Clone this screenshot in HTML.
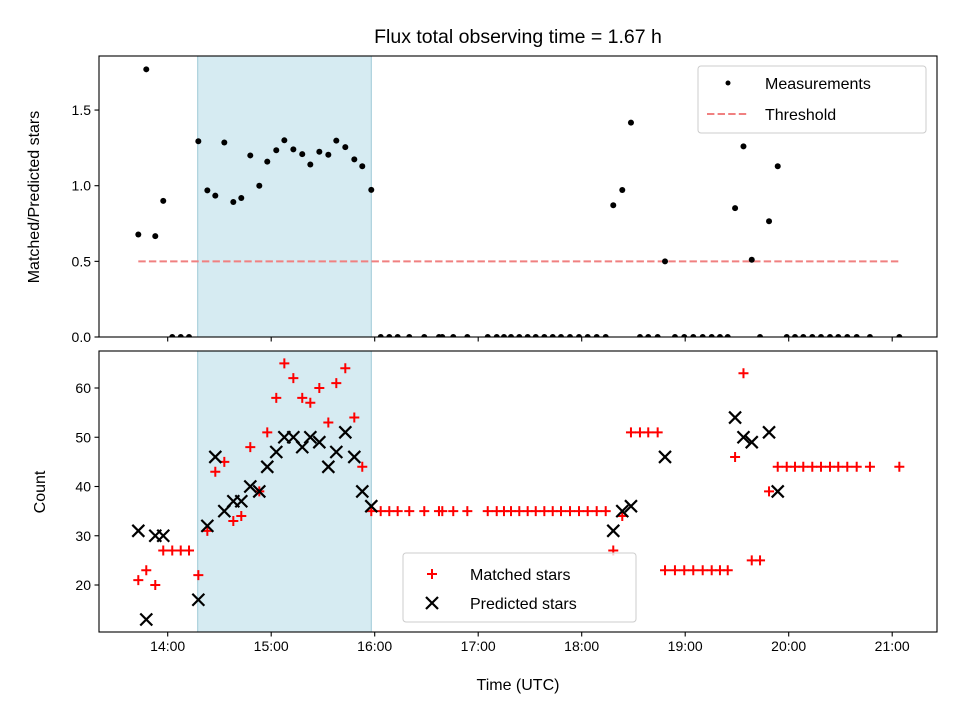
<!DOCTYPE html>
<html><head><meta charset="utf-8"><style>
body{margin:0;background:#fff;}
svg{display:block;font-family:"Liberation Sans","DejaVu Sans",sans-serif;}
</style></head><body>
<svg id="chart" width="960" height="720" viewBox="0 0 960 720"></svg>
<script>
const times = [13.716,13.793,13.880,13.957,14.044,14.126,14.206,14.296,14.383,14.460,14.547,14.634,14.711,14.798,14.885,14.962,15.049,15.127,15.214,15.300,15.378,15.465,15.552,15.629,15.716,15.803,15.880,15.967,
16.058,16.141,16.222,16.334,16.479,16.621,16.653,16.759,16.895,17.092,17.179,17.249,17.317,17.397,17.478,17.556,17.639,17.720,17.800,17.887,17.974,18.058,18.145,18.232,
18.305,18.392,18.476,18.563,18.643,18.734,18.805,18.901,18.991,19.078,19.169,19.256,19.336,19.411,
19.482,19.563,19.643,19.723,19.810,19.894,19.981,20.061,20.141,20.228,20.312,20.399,20.479,20.566,20.657,20.785,21.069];
const matched = [21,23,20,27,27,27,27,22,31,43,45,33,34,48,39,51,58,65,62,58,57,60,53,61,64,54,44,35,
35,35,35,35,35,35,35,35,35,35,35,35,35,35,35,35,35,35,35,35,35,35,35,35,
27,34,51,51,51,51,23,23,23,23,23,23,23,23,
46,63,25,25,39,44,44,44,44,44,44,44,44,44,44,44,44];
const predicted = [31,13,30,30,null,null,null,17,32,46,35,37,37,40,39,44,47,50,50,48,50,49,44,47,51,46,39,36,
null,null,null,null,null,null,null,null,null,null,null,null,null,null,null,null,null,null,null,null,null,null,null,null,
31,35,36,null,null,null,46,null,null,null,null,null,null,null,
54,50,49,null,51,39,null,null,null,null,null,null,null,null,null,null,null];
const threshold = 0.5;
const shadeStart = 14.29, shadeEnd = 15.967;
const xTicks = [14,15,16,17,18,19,20,21];
const xTickLabels = ["14:00","15:00","16:00","17:00","18:00","19:00","20:00","21:00"];
const topTicks = [0,0.5,1.0,1.5];
const topTickLabels = ["0.0","0.5","1.0","1.5"];
const botTicks = [20,30,40,50,60];

const NS="http://www.w3.org/2000/svg";
const svg=document.getElementById('chart');
const L=99,R=937,T1=56,B1=337,T2=351,B2=632;
const X=t=>167.7+(t-14)*103.5;
const Y1=v=>337-v*151.3;
const Y2=c=>585-(c-20)*4.925;
function el(tag,attrs,parent,text){const e=document.createElementNS(NS,tag);for(const k in attrs)e.setAttribute(k,attrs[k]);if(text!==undefined)e.textContent=text;(parent||svg).appendChild(e);return e;}

// clip paths
const defs=el('defs',{});
const c1=el('clipPath',{id:'c1'},defs);el('rect',{x:L,y:T1,width:R-L,height:B1-T1},c1);
const c2=el('clipPath',{id:'c2'},defs);el('rect',{x:L,y:T2,width:R-L,height:B2-T2},c2);

// title
const title=el('text',{x:518,y:43,'text-anchor':'middle','font-size':'19.5'},svg,'Flux total observing time = 1.67 h');



// panels
[[T1,B1,'top'],[T2,B2,'bottom']].forEach(([t,b,n])=>{
  const g=el('g',{});
  
  
  const s=el('rect',{x:X(shadeStart),y:t,width:X(shadeEnd)-X(shadeStart),height:b-t,fill:'#add8e6','fill-opacity':0.5,stroke:'#9cc8d6','stroke-width':1},g);
  
  
});

// top series
const gTop=el('g',{'clip-path':'url(#c1)'});


const thr=el('line',{x1:X(times[0]),x2:X(times[times.length-1]),y1:Y1(threshold),y2:Y1(threshold),stroke:'#f08080','stroke-width':2,'stroke-dasharray':'7.4,3.2'},gTop);


times.forEach((t,i)=>{
  const r=predicted[i]==null?0:matched[i]/predicted[i];
  const d=el('circle',{cx:X(t),cy:Y1(r),r:3,fill:'#000'},gTop);
  
  
});

// bottom series
const gBot=el('g',{'clip-path':'url(#c2)'});


times.forEach((t,i)=>{
  const x=X(t),y=Y2(matched[i]);
  const p=el('path',{d:`M${x-5},${y}H${x+5}M${x},${y-5}V${y+5}`,stroke:'#ff0000','stroke-width':2},gBot);
  
  
});
times.forEach((t,i)=>{
  if(predicted[i]==null)return;
  const x=X(t),y=Y2(predicted[i]);
  const p=el('path',{d:`M${x-6},${y-6}L${x+6},${y+6}M${x-6},${y+6}L${x+6},${y-6}`,stroke:'#000','stroke-width':2.2},gBot);
  
  
});

// axes frames
[[T1,B1],[T2,B2]].forEach(([t,b],k)=>{
  const f=el('rect',{x:L,y:t,width:R-L,height:b-t,fill:'none',stroke:'#000','stroke-width':1.1});
  
  
  xTicks.forEach((v,i)=>{
    el('line',{x1:X(v),x2:X(v),y1:b,y2:b+4.5,stroke:'#000','stroke-width':1.1});
    if(k===1){
      const tl=el('text',{x:X(v),y:b+19,'text-anchor':'middle','font-size':'14'},svg,xTickLabels[i]);
      
      
    }
  });
});
topTicks.forEach((v,i)=>{
  el('line',{x1:L-4.5,x2:L,y1:Y1(v),y2:Y1(v),stroke:'#000','stroke-width':1.1});
  const tl=el('text',{x:L-8,y:Y1(v)+5,'text-anchor':'end','font-size':'14'},svg,topTickLabels[i]);
  
  
});
botTicks.forEach(v=>{
  el('line',{x1:L-4.5,x2:L,y1:Y2(v),y2:Y2(v),stroke:'#000','stroke-width':1.1});
  const tl=el('text',{x:L-8,y:Y2(v)+5,'text-anchor':'end','font-size':'14'},svg,String(v));
  
  
});
const yt1=el('text',{x:39,y:197,'text-anchor':'middle','font-size':'16',transform:'rotate(-90 39 197)'},svg,'Matched/Predicted stars');


const yt2=el('text',{x:45,y:492,'text-anchor':'middle','font-size':'16',transform:'rotate(-90 45 492)'},svg,'Count');


const xt=el('text',{x:518,y:690,'text-anchor':'middle','font-size':'16'},svg,'Time (UTC)');



// legends
const lg1=el('g',{});


el('rect',{x:698,y:66,width:228,height:67,rx:3,fill:'#fff','fill-opacity':0.8,stroke:'#ccc'},lg1);
el('circle',{cx:728,cy:83,r:2.5,fill:'#000'},lg1);
const le1=el('text',{x:765,y:89,'font-size':'16'},lg1,'Measurements');


el('line',{x1:707,x2:749,y1:114,y2:114,stroke:'#f08080','stroke-width':2,'stroke-dasharray':'7.4,3.2'},lg1);
const le2=el('text',{x:765,y:120,'font-size':'16'},lg1,'Threshold');



const lg2=el('g',{});


el('rect',{x:403,y:553,width:233,height:69,rx:3,fill:'#fff','fill-opacity':0.8,stroke:'#ccc'},lg2);
el('path',{d:'M427,574H437M432,569V579',stroke:'#ff0000','stroke-width':2},lg2);
const le3=el('text',{x:470,y:580,'font-size':'16'},lg2,'Matched stars');


el('path',{d:'M426,597L438,609M426,609L438,597',stroke:'#000','stroke-width':2.2},lg2);
const le4=el('text',{x:470,y:609,'font-size':'16'},lg2,'Predicted stars');


</script>
</body></html>
